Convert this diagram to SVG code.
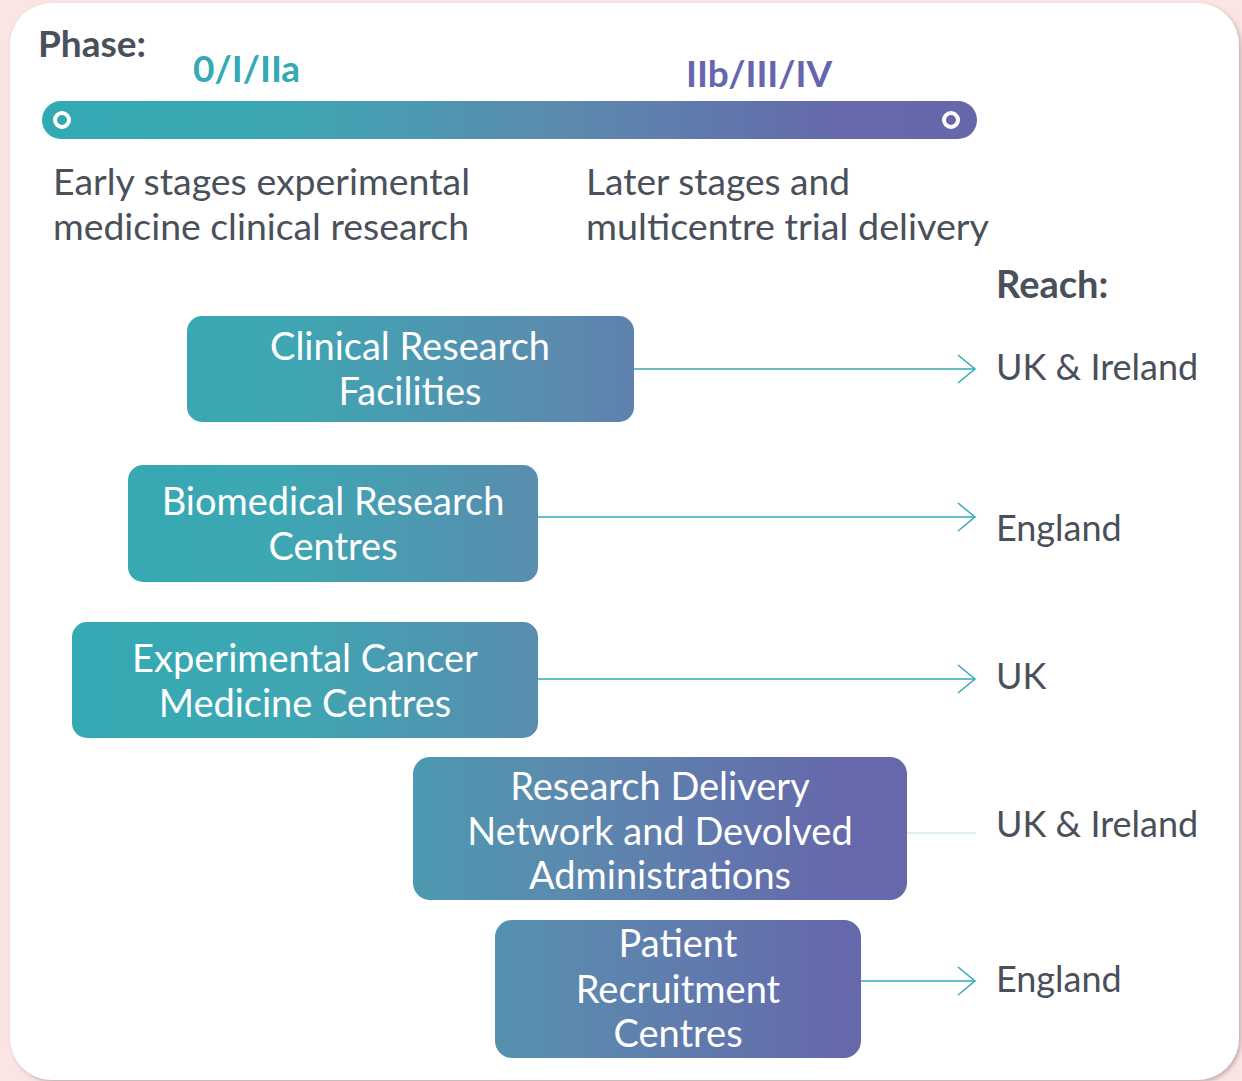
<svg xmlns="http://www.w3.org/2000/svg" width="1242" height="1081" viewBox="0 0 1242 1081">
<defs>
<linearGradient id="grad" gradientUnits="userSpaceOnUse" x1="42" y1="0" x2="977" y2="0">
<stop offset="0" stop-color="#32aab3"/>
<stop offset="0.25" stop-color="#3da7b3"/>
<stop offset="0.55" stop-color="#5b8bae"/>
<stop offset="0.85" stop-color="#6569ab"/>
<stop offset="1" stop-color="#6767ab"/>
</linearGradient>
<filter id="shadow" x="-5%" y="-5%" width="110%" height="110%">
<feDropShadow dx="2" dy="2" stdDeviation="2" flood-color="#000" flood-opacity="0.25"/>
</filter>
<marker id="chev" viewBox="0 0 20 30" refX="18" refY="15" markerWidth="20" markerHeight="30" markerUnits="userSpaceOnUse" orient="auto">
<path d="M1,1 L18,15 L1,29" fill="none" stroke="#33aab4" stroke-width="1.5"/>
</marker>
<style>
text { font-family: Lato, "Liberation Sans", sans-serif; }
.title { font-weight: bold; font-size: 37px; }
.desc { fill: #4a505a; font-size: 36px; }
.box { fill: url(#grad); }
.boxtxt { fill: #ffffff; font-size: 38px; text-anchor: middle; }
.reach { fill: #4a505a; font-size: 36px; }
.conn { stroke: #33aab4; stroke-width: 1.5; fill: none; }
</style>
</defs>
<rect x="0" y="0" width="1242" height="1081" fill="#fbe5e4"/>
<rect x="10" y="3" width="1229" height="1077" rx="42" ry="42" fill="#ffffff" filter="url(#shadow)"/>

<g id="phase-header">
<text x="38" y="57" class="title" fill="#4a505a">Phase:</text>
<text x="193" y="82" class="title" fill="#33aab4">0/I/IIa</text>
<text x="686" y="87" class="title" fill="#6566ad">IIb/III/IV</text>
<rect x="42" y="101" width="935" height="38" rx="19" ry="19" fill="url(#grad)"/>
<circle cx="62" cy="120" r="7" fill="none" stroke="#ffffff" stroke-width="4"/>
<circle cx="951" cy="120" r="7" fill="none" stroke="#ffffff" stroke-width="4"/>
<text x="53" y="195" class="desc" textLength="417" lengthAdjust="spacingAndGlyphs">Early stages experimental</text>
<text x="53" y="240" class="desc" textLength="416" lengthAdjust="spacingAndGlyphs">medicine clinical research</text>
<text x="586" y="195" class="desc" textLength="264" lengthAdjust="spacingAndGlyphs">Later stages and</text>
<text x="586" y="240" class="desc" textLength="403" lengthAdjust="spacingAndGlyphs">multicentre trial delivery</text>
<text x="996" y="298" class="title" fill="#4a505a" style="font-size:38px">Reach:</text>
</g>

<g id="connectors">
<line class="conn" x1="634" y1="369" x2="975" y2="369" marker-end="url(#chev)"/>
<line class="conn" x1="538" y1="517" x2="975" y2="517" marker-end="url(#chev)"/>
<line class="conn" x1="538" y1="679" x2="975" y2="679" marker-end="url(#chev)"/>
<line x1="907" y1="833" x2="976" y2="833" stroke="#bfe2e5" stroke-width="1"/>
<line class="conn" x1="861" y1="981" x2="975" y2="981" marker-end="url(#chev)"/>
</g>

<g id="node-crf">
<rect class="box" x="187" y="316" width="447" height="106" rx="15" ry="15"/>
<text class="boxtxt" x="410" y="360">Clinical Research</text>
<text class="boxtxt" x="410" y="405">Facilities</text>
<text class="reach" x="996" y="380">UK &amp; Ireland</text>
</g>

<g id="node-brc">
<rect class="box" x="128" y="465" width="410" height="117" rx="15" ry="15"/>
<text class="boxtxt" x="333" y="515">Biomedical Research</text>
<text class="boxtxt" x="333" y="560">Centres</text>
<text class="reach" x="996" y="541">England</text>
</g>

<g id="node-ecmc">
<rect class="box" x="72" y="622" width="466" height="116" rx="15" ry="15"/>
<text class="boxtxt" x="305" y="672">Experimental Cancer</text>
<text class="boxtxt" x="305" y="717">Medicine Centres</text>
<text class="reach" x="996" y="689">UK</text>
</g>

<g id="node-rdn">
<rect class="box" x="413" y="757" width="494" height="143" rx="17" ry="17"/>
<text class="boxtxt" x="660" y="800">Research Delivery</text>
<text class="boxtxt" x="660" y="845">Network and Devolved</text>
<text class="boxtxt" x="660" y="889">Administrations</text>
<text class="reach" x="996" y="837">UK &amp; Ireland</text>
</g>

<g id="node-prc">
<rect class="box" x="495" y="920" width="366" height="138" rx="17" ry="17"/>
<text class="boxtxt" x="678" y="957">Patient</text>
<text class="boxtxt" x="678" y="1003">Recruitment</text>
<text class="boxtxt" x="678" y="1047">Centres</text>
<text class="reach" x="996" y="992">England</text>
</g>
</svg>
